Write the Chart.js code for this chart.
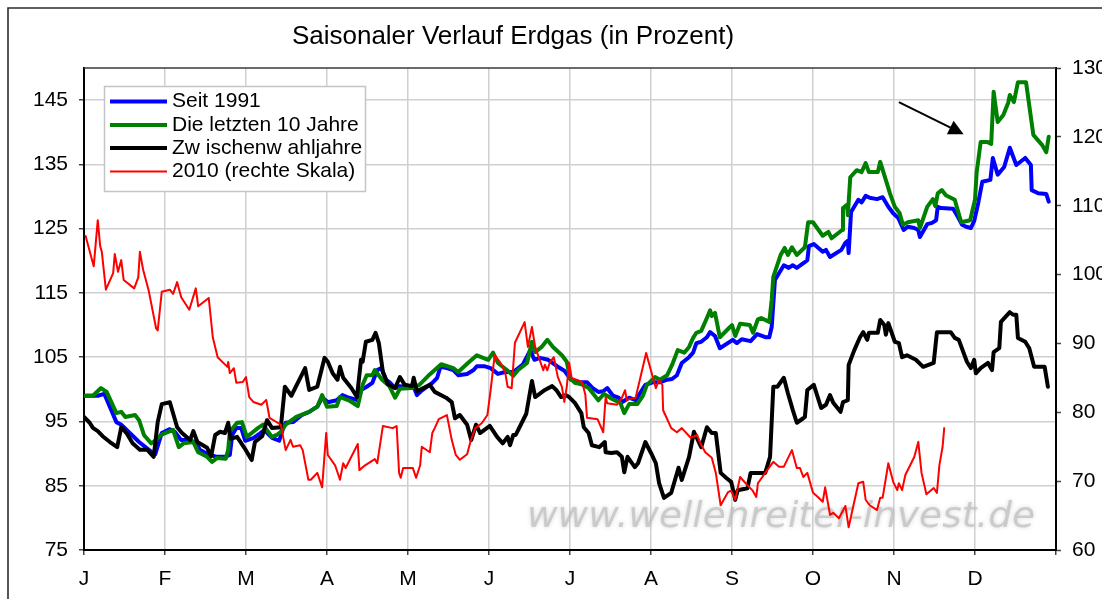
<!DOCTYPE html>
<html>
<head>
<meta charset="utf-8">
<script src="https://cdn.jsdelivr.net/npm/chart.js@4.4.0/dist/chart.umd.min.js"></script>
<style>
html,body{margin:0;padding:0;background:#fff;}
canvas{display:block;}
</style>
</head>
<body>
<canvas id="c" width="1102" height="599"></canvas>
<script>
// ---------- data ----------
const titleText = 'Saisonaler Verlauf Erdgas (in Prozent)';
const monthLabels = ['J','F','M','A','M','J','J','A','S','O','N','D'];
const monthStarts = [0,1,2,3,4,5,6,7,8,9,10,11,12];
const leftTicks = [75,85,95,105,115,125,135,145];
const rightTicks = [60,70,80,90,100,110,120,130];
const seriesNames = ['Seit 1991','Die letzten 10 Jahre','Zw ischenw ahljahre','2010 (rechte Skala)'];
const watermarkText = 'www.wellenreiter-invest.de';

// x in months since 1 Jan
const seitX = [0.00,0.17,0.25,0.40,0.46,0.68,0.84,0.88,0.96,1.06,1.12,1.20,1.27,1.38,1.43,1.53,1.64,1.74,1.80,1.83,1.88,1.94,1.99,2.09,2.17,2.23,2.27,2.33,2.41,2.46,2.49,2.58,2.69,2.78,2.88,2.94,3.01,3.12,3.19,3.25,3.38,3.42,3.49,3.56,3.62,3.67,3.73,3.78,3.84,3.90,3.99,4.07,4.11,4.16,4.30,4.36,4.40,4.48,4.56,4.62,4.73,4.81,4.85,4.94,5.02,5.11,5.20,5.30,5.42,5.51,5.56,5.63,5.73,5.84,5.93,6.01,6.12,6.21,6.28,6.35,6.41,6.46,6.53,6.60,6.64,6.73,6.81,6.93,7.02,7.11,7.20,7.26,7.32,7.38,7.47,7.52,7.56,7.62,7.69,7.73,7.79,7.85,8.01,8.06,8.12,8.23,8.31,8.42,8.46,8.49,8.53,8.64,8.70,8.75,8.80,8.89,8.93,8.95,9.01,9.12,9.16,9.21,9.35,9.40,9.43,9.44,9.47,9.56,9.60,9.65,9.70,9.79,9.86,9.93,9.99,10.05,10.12,10.17,10.25,10.30,10.32,10.41,10.47,10.52,10.54,10.58,10.73,10.79,10.84,10.89,10.95,10.99,11.04,11.09,11.19,11.22,11.28,11.36,11.43,11.51,11.62,11.69,11.70,11.78,11.88,11.91];
const seitY = [99.0,99.0,99.3,94.9,94.5,91.8,90.2,89.9,93.2,93.8,93.4,92.1,92.1,91.8,90.6,89.9,89.5,89.5,89.8,92.9,94.0,94.0,92.0,92.4,93.1,93.7,93.1,92.4,92.0,94.0,94.8,94.9,96.0,96.5,97.3,98.7,98.0,98.3,99.1,98.8,98.3,99.9,100.4,101.0,103.0,103.3,101.5,101.0,100.2,100.5,100.4,100.4,99.1,99.7,101.0,101.8,103.5,103.3,103.0,102.2,102.4,103.0,103.6,103.6,103.3,102.4,102.7,102.7,103.9,106.1,104.6,104.9,104.6,103.6,102.9,101.5,101.1,101.1,100.2,99.6,99.7,100.2,99.0,98.7,98.0,98.7,98.3,100.7,101.1,101.1,101.5,101.6,102.2,104.1,105.0,105.7,107.2,107.4,108.1,108.9,108.3,106.4,107.7,107.2,107.8,107.5,108.6,108.1,108.1,109.7,117.0,119.3,118.9,119.3,118.9,119.7,120.1,122.3,122.6,121.4,121.7,120.6,121.7,122.8,123.1,121.2,127.6,129.5,129.1,130.1,129.8,129.6,129.9,128.4,127.4,126.7,124.8,125.3,125.1,124.8,123.7,125.7,125.9,126.3,128.4,128.2,128.1,126.8,125.6,125.3,125.1,126.2,129.0,132.3,132.6,136.0,133.4,134.6,137.6,134.9,136.0,134.9,131.0,130.5,130.4,129.2];

const zehnX = [0.00,0.11,0.21,0.28,0.40,0.46,0.51,0.63,0.68,0.74,0.83,0.89,0.95,1.10,1.17,1.23,1.35,1.41,1.52,1.58,1.64,1.75,1.78,1.80,1.89,1.95,2.01,2.09,2.15,2.21,2.32,2.38,2.43,2.49,2.62,2.78,2.88,2.94,3.00,3.12,3.16,3.27,3.38,3.44,3.49,3.56,3.59,3.68,3.77,3.84,3.90,4.05,4.14,4.25,4.41,4.56,4.62,4.74,4.85,4.99,5.05,5.11,5.22,5.30,5.36,5.47,5.53,5.57,5.65,5.72,5.79,5.90,5.96,6.00,6.06,6.14,6.23,6.35,6.42,6.52,6.62,6.67,6.73,6.83,6.90,6.95,7.05,7.11,7.20,7.26,7.33,7.41,7.47,7.52,7.56,7.62,7.69,7.73,7.75,7.79,7.85,7.96,8.00,8.04,8.10,8.22,8.26,8.32,8.36,8.46,8.49,8.51,8.60,8.65,8.69,8.74,8.80,8.90,8.94,9.00,9.12,9.19,9.23,9.36,9.37,9.42,9.43,9.46,9.54,9.60,9.65,9.69,9.80,9.83,9.95,10.01,10.07,10.11,10.17,10.30,10.32,10.41,10.48,10.51,10.54,10.59,10.64,10.75,10.83,10.94,11.00,11.02,11.07,11.15,11.20,11.23,11.28,11.35,11.41,11.43,11.48,11.53,11.63,11.72,11.83,11.88,11.91];
const zehnY = [99.0,99.0,100.2,99.6,96.3,96.5,95.7,96.0,95.2,92.9,91.6,92.1,92.9,93.7,91.0,91.6,91.8,90.2,89.5,88.7,89.3,89.2,90.6,93.4,94.8,94.9,92.6,93.4,94.0,94.5,92.6,92.9,93.4,94.5,95.7,96.5,97.3,99.1,97.3,97.4,98.8,98.3,97.4,100.7,102.2,102.2,103.0,101.5,100.5,98.7,100.1,100.2,100.7,102.1,103.9,103.3,102.7,104.1,105.3,104.6,105.7,104.1,103.0,102.1,103.0,104.1,107.4,105.8,106.6,107.7,106.6,105.3,104.3,101.8,101.0,100.8,100.2,98.3,99.3,98.5,97.9,96.3,97.7,97.7,99.0,100.7,101.9,101.5,102.2,103.8,106.1,105.7,106.6,108.0,108.8,109.1,111.1,112.3,111.4,111.9,108.1,109.5,110.0,108.3,110.2,110.0,108.8,110.9,111.1,110.5,113.9,117.5,120.9,122.0,120.9,122.1,120.9,122.1,126.0,126.0,123.9,124.5,123.5,124.8,128.2,128.7,127.1,133.0,134.1,133.8,135.2,133.8,133.8,135.4,130.5,128.4,127.4,125.6,126.0,126.3,125.1,128.4,129.6,128.5,130.5,131.0,130.2,129.5,126.0,126.3,129.5,133.7,138.5,138.5,138.2,146.3,141.6,142.7,144.6,145.8,144.7,147.8,147.8,139.6,138.0,136.9,139.3];

const zwischenX = [0.00,0.07,0.11,0.17,0.23,0.32,0.41,0.46,0.53,0.60,0.69,0.78,0.86,0.91,0.96,1.06,1.15,1.21,1.31,1.35,1.40,1.52,1.57,1.62,1.68,1.74,1.78,1.81,1.89,1.98,2.07,2.11,2.20,2.26,2.32,2.43,2.48,2.56,2.67,2.73,2.78,2.88,2.97,3.01,3.07,3.13,3.16,3.20,3.30,3.37,3.42,3.44,3.48,3.56,3.60,3.64,3.69,3.75,3.84,3.90,3.96,4.05,4.07,4.11,4.27,4.33,4.47,4.54,4.58,4.64,4.73,4.78,4.84,4.89,5.01,5.10,5.17,5.23,5.26,5.30,5.33,5.46,5.53,5.57,5.69,5.78,5.83,5.89,5.95,5.99,6.06,6.14,6.17,6.23,6.27,6.36,6.43,6.44,6.51,6.58,6.64,6.67,6.71,6.80,6.84,6.93,7.00,7.06,7.10,7.16,7.25,7.34,7.38,7.47,7.53,7.62,7.69,7.75,7.80,7.86,7.93,7.99,8.04,8.07,8.19,8.23,8.41,8.47,8.51,8.56,8.64,8.69,8.75,8.80,8.88,8.90,8.93,9.01,9.10,9.16,9.21,9.25,9.34,9.37,9.43,9.44,9.51,9.58,9.62,9.67,9.69,9.80,9.83,9.88,9.90,9.93,10.01,10.06,10.10,10.16,10.27,10.36,10.49,10.53,10.60,10.70,10.75,10.80,10.90,10.95,10.99,11.01,11.07,11.16,11.21,11.23,11.30,11.32,11.43,11.47,11.51,11.53,11.62,11.67,11.73,11.86,11.90];
const zwischenY = [95.7,94.8,94.0,93.5,92.7,91.8,91.0,94.1,93.1,91.6,90.6,90.6,89.5,94.9,97.7,98.0,94.1,93.2,92.1,93.5,91.8,90.9,89.6,92.9,93.4,93.2,94.8,92.3,92.6,90.9,89.0,91.8,92.7,95.2,94.0,94.1,100.4,99.0,101.8,103.3,99.9,100.4,104.9,104.3,102.5,101.5,103.5,101.8,100.2,98.8,104.6,104.3,107.4,107.7,108.8,107.2,102.7,100.8,100.2,101.9,100.7,100.5,101.8,99.7,100.7,99.6,98.7,98.0,95.5,96.0,94.5,92.1,94.5,93.2,94.3,92.6,91.6,92.6,91.3,92.9,92.9,96.2,101.3,98.8,99.9,100.5,99.9,98.8,99.1,98.8,97.9,96.3,94.1,93.2,91.3,91.0,91.8,90.2,90.1,90.2,89.5,87.1,89.5,87.9,88.5,91.8,90.1,88.5,85.4,83.1,83.9,87.8,85.9,89.5,93.4,91.0,94.1,93.2,93.2,87.0,86.2,85.6,82.8,84.3,84.6,87.0,87.0,89.5,100.4,100.4,101.8,99.4,96.8,94.8,95.5,95.7,99.9,100.7,97.1,97.6,99.1,97.9,96.5,98.0,98.3,103.8,106.1,108.1,108.9,107.7,108.8,108.8,110.8,110.0,108.5,110.3,107.4,107.2,105.0,105.3,104.6,103.5,104.1,108.9,108.9,108.9,108.0,107.7,104.3,103.3,104.6,102.5,103.3,104.1,103.0,105.8,106.4,110.5,112.0,111.6,111.6,108.0,107.4,106.4,103.5,103.5,100.4];

const y2010X = [0.02,0.12,0.17,0.20,0.22,0.27,0.36,0.38,0.42,0.46,0.49,0.62,0.67,0.69,0.73,0.80,0.89,0.91,0.96,1.06,1.10,1.15,1.20,1.30,1.38,1.41,1.54,1.59,1.65,1.77,1.78,1.80,1.85,1.88,1.96,2.00,2.04,2.09,2.19,2.25,2.29,2.36,2.43,2.49,2.55,2.58,2.67,2.70,2.77,2.80,2.88,2.94,2.99,3.01,3.10,3.16,3.20,3.23,3.38,3.40,3.47,3.59,3.62,3.69,3.81,3.86,3.89,3.91,3.94,4.06,4.10,4.15,4.17,4.27,4.30,4.33,4.38,4.48,4.54,4.59,4.64,4.73,4.77,4.83,4.91,4.98,5.02,5.07,5.14,5.20,5.23,5.28,5.32,5.44,5.48,5.53,5.57,5.67,5.69,5.72,5.75,5.80,5.85,5.90,5.93,5.96,5.99,6.02,6.15,6.19,6.21,6.34,6.41,6.44,6.46,6.58,6.64,6.68,6.70,6.81,6.94,7.06,7.10,7.14,7.15,7.25,7.32,7.38,7.49,7.57,7.60,7.67,7.75,7.80,7.86,7.95,7.99,8.04,8.10,8.19,8.25,8.30,8.32,8.41,8.51,8.58,8.64,8.74,8.80,8.84,8.88,8.93,9.00,9.06,9.12,9.15,9.21,9.25,9.32,9.40,9.44,9.56,9.62,9.65,9.70,9.79,9.83,9.86,9.93,9.99,10.04,10.06,10.10,10.14,10.25,10.30,10.34,10.40,10.49,10.53,10.56,10.60,10.62];
const y2010Y = [105.6,101.2,107.9,104.1,103.3,97.8,100.2,103.0,100.4,102.1,99.2,98.0,99.6,103.3,100.7,97.6,92.2,91.9,97.5,97.8,97.2,98.9,96.7,94.9,98.0,95.4,96.6,90.9,88.0,86.6,87.3,85.7,86.4,84.3,84.4,85.1,82.2,81.5,81.1,81.8,79.2,78.7,78.2,74.5,76.0,75.0,75.2,74.5,70.2,70.2,71.2,69.1,77.0,73.8,72.3,70.2,72.6,71.9,75.4,71.6,72.3,73.2,72.6,78.0,77.7,78.0,71.2,70.5,71.9,71.9,70.5,72.3,75.0,74.2,77.0,77.7,79.0,79.6,76.0,73.8,73.1,73.9,75.7,77.7,78.4,79.6,83.2,88.3,87.2,85.8,83.7,83.5,90.1,93.1,89.5,92.4,89.5,86.1,86.9,86.1,87.2,88.0,85.1,83.7,81.5,83.7,87.2,85.0,84.4,82.5,79.2,79.0,77.1,82.2,81.3,81.1,82.1,83.2,81.8,82.1,88.6,83.5,84.7,84.0,80.3,77.7,77.1,77.7,76.3,76.7,75.7,74.2,73.4,71.2,66.5,68.4,68.6,67.3,70.6,69.4,68.7,67.7,69.7,71.2,72.8,72.1,72.1,74.5,71.9,71.9,70.6,71.2,68.3,67.7,67.0,69.1,65.1,65.4,64.6,66.4,63.3,69.7,69.9,67.3,66.5,65.8,67.6,67.6,72.6,69.9,68.7,69.7,68.7,70.9,73.5,75.7,71.2,68.1,69.0,68.3,72.3,75.0,77.7];

// arrow annotation in data units (month, left-scale value)
const arrowFrom = [10.06, 144.7];
const arrowTo = [10.86, 139.7];

// ---------- helpers ----------
const FONT = "'Liberation Sans', Arial, Helvetica, sans-serif";
const zip = (xs, ys) => xs.map((x, i) => ({x: x, y: ys[i]}));

const decor = {
  id: 'decor',
  beforeDraw(chart) {
    const ctx = chart.ctx;
    ctx.save();
    ctx.fillStyle = '#ffffff';
    ctx.fillRect(0, 0, chart.width, chart.height);
    // outer frame (cropped chart object)
    ctx.strokeStyle = '#2b2b2b';
    ctx.lineWidth = 1.6;
    ctx.beginPath();
    ctx.moveTo(8, chart.height + 5);
    ctx.lineTo(8, 8);
    ctx.lineTo(chart.width + 5, 8);
    ctx.stroke();
    // title
    ctx.fillStyle = '#000';
    ctx.font = '26px ' + FONT;
    ctx.textAlign = 'center';
    ctx.textBaseline = 'alphabetic';
    ctx.fillText(titleText, 513, 44);
    ctx.restore();
  },
  beforeDatasetsDraw(chart) {
    const ctx = chart.ctx;
    ctx.save();
    ctx.font = "italic 36px 'DejaVu Sans', sans-serif";
    const w = ctx.measureText(watermarkText).width;
    const target = 508;
    ctx.translate(527, 527);
    ctx.scale(target / w, 1);
    ctx.shadowColor = 'rgba(160,160,160,0.6)';
    ctx.shadowBlur = 4;
    ctx.fillStyle = 'rgba(190,190,190,0.7)';
    ctx.textAlign = 'left';
    ctx.textBaseline = 'alphabetic';
    ctx.fillText(watermarkText, 0, 0);
    ctx.restore();
  },
  afterDatasetsDraw(chart) {
    const ctx = chart.ctx;
    const a = chart.chartArea;
    const xs = chart.scales.x, ys = chart.scales.y;
    ctx.save();
    // plot top border
    ctx.strokeStyle = '#3a3a3a';
    ctx.lineWidth = 1.5;
    ctx.beginPath();
    ctx.moveTo(a.left, a.top);
    ctx.lineTo(a.right, a.top);
    ctx.stroke();

    // arrow
    const x0 = xs.getPixelForValue(arrowFrom[0]), y0 = ys.getPixelForValue(arrowFrom[1]);
    const x1 = xs.getPixelForValue(arrowTo[0]), y1 = ys.getPixelForValue(arrowTo[1]);
    const dx = x1 - x0, dy = y1 - y0, L = Math.hypot(dx, dy);
    const ux = dx / L, uy = dy / L;
    const headLen = 15, headHalf = 7.5;
    const bx = x1 - ux * headLen, by = y1 - uy * headLen;
    ctx.strokeStyle = '#000';
    ctx.fillStyle = '#000';
    ctx.lineWidth = 2;
    ctx.beginPath();
    ctx.moveTo(x0, y0);
    ctx.lineTo(bx + ux * 2, by + uy * 2);
    ctx.stroke();
    ctx.beginPath();
    ctx.moveTo(x1, y1);
    ctx.lineTo(bx - uy * headHalf, by + ux * headHalf);
    ctx.lineTo(bx + uy * headHalf, by - ux * headHalf);
    ctx.closePath();
    ctx.fill();

    // legend
    const lx = 104.5, ly = 86.5, lw = 261, lh = 105;
    ctx.fillStyle = '#ffffff';
    ctx.fillRect(lx, ly, lw, lh);
    ctx.strokeStyle = '#c4c4c4';
    ctx.lineWidth = 1.5;
    ctx.strokeRect(lx, ly, lw, lh);
    const rows = [101.5, 125, 148, 171.5];
    ctx.font = '21px ' + FONT;
    ctx.textAlign = 'left';
    ctx.textBaseline = 'middle';
    chart.data.datasets.forEach((ds, i) => {
      const ry = rows[i];
      ctx.strokeStyle = ds.borderColor;
      ctx.lineWidth = ds.borderWidth;
      ctx.lineCap = 'butt';
      ctx.beginPath();
      ctx.moveTo(110, ry);
      ctx.lineTo(167, ry);
      ctx.stroke();
      ctx.fillStyle = '#000';
      ctx.fillText(ds.label, 172, ry);
    });
    ctx.restore();
  }
};

Chart.defaults.font.family = FONT;
Chart.defaults.color = '#000';

const lineCommon = {
  pointRadius: 0,
  pointHoverRadius: 0,
  tension: 0,
  fill: false,
  borderJoinStyle: 'round',
  borderCapStyle: 'round'
};

new Chart(document.getElementById('c'), {
  type: 'line',
  data: {
    datasets: [
      Object.assign({label: seriesNames[0], data: zip(seitX, seitY), borderColor: '#0000ff', borderWidth: 4, yAxisID: 'y', order: 4}, lineCommon),
      Object.assign({label: seriesNames[1], data: zip(zehnX, zehnY), borderColor: '#008000', borderWidth: 4, yAxisID: 'y', order: 3}, lineCommon),
      Object.assign({label: seriesNames[2], data: zip(zwischenX, zwischenY), borderColor: '#000000', borderWidth: 4, yAxisID: 'y', order: 2}, lineCommon),
      Object.assign({label: seriesNames[3], data: zip(y2010X, y2010Y), borderColor: '#ff0000', borderWidth: 2, yAxisID: 'y1', order: 1}, lineCommon)
    ]
  },
  options: {
    responsive: false,
    animation: false,
    events: [],
    layout: {padding: {top: 68, left: 0, right: 0, bottom: 0}},
    plugins: {legend: {display: false}, tooltip: {enabled: false}, title: {display: false}},
    scales: {
      x: {
        type: 'linear', position: 'bottom', min: 0, max: 12,
        afterBuildTicks: s => { s.ticks = monthStarts.map(v => ({value: v})); },
        afterFit: s => { s.height = 49; },
        ticks: {autoSkip: false, maxRotation: 0, minRotation: 0, padding: 12, color: '#000', font: {size: 21},
                callback: (v) => (monthLabels[v] !== undefined ? monthLabels[v] : '')},
        grid: {color: '#d0d0d0', lineWidth: 1.5, drawTicks: true, tickLength: 5, tickColor: '#444', tickWidth: 1.5},
        border: {display: true, color: '#000', width: 2}
      },
      y: {
        type: 'linear', position: 'left', min: 75, max: 150,
        afterBuildTicks: s => { s.ticks = leftTicks.map(v => ({value: v})); },
        afterFit: s => { s.width = 84; },
        ticks: {padding: 11, color: '#000', font: {size: 21}},
        grid: {color: '#d0d0d0', lineWidth: 1.5, drawTicks: true, tickLength: 5, tickColor: '#444', tickWidth: 1.5},
        border: {display: true, color: '#000', width: 2}
      },
      y1: {
        type: 'linear', position: 'right', min: 60, max: 130,
        afterBuildTicks: s => { s.ticks = rightTicks.map(v => ({value: v})); },
        afterFit: s => { s.width = 46; },
        ticks: {padding: 11, color: '#000', font: {size: 21}},
        grid: {drawOnChartArea: false, drawTicks: true, tickLength: 5, tickColor: '#444', tickWidth: 1.5},
        border: {display: true, color: '#000', width: 2}
      }
    }
  },
  plugins: [decor]
});
</script>
</body>
</html>
